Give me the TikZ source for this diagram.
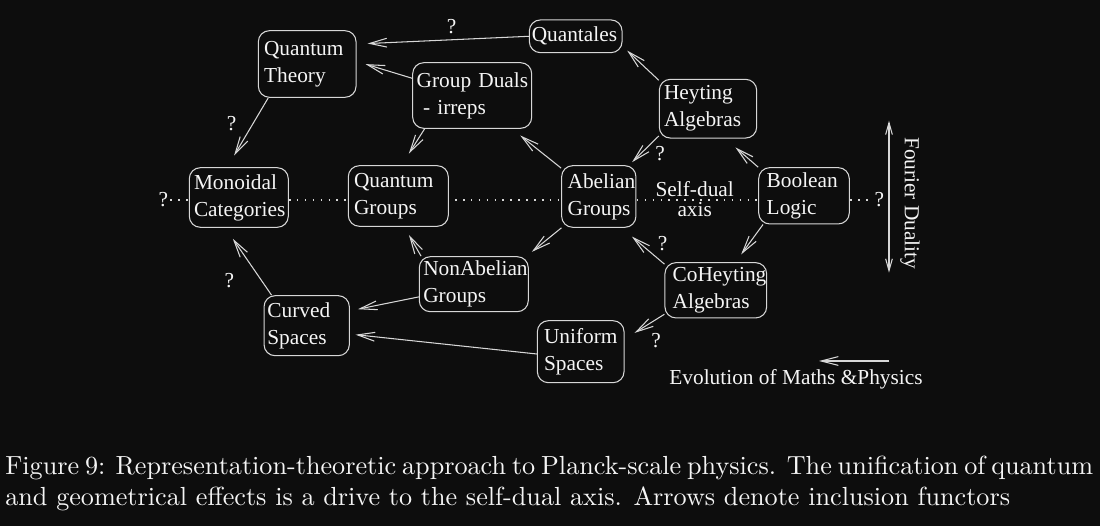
\documentclass[tikz,border=0pt]{standalone}
\usepackage{fontspec}
\newfontfamily\tnr{Liberation Serif}
\newfontfamily\capfont{lmroman10-regular.otf}
\usetikzlibrary{arrows.meta,backgrounds}
\definecolor{bgc}{RGB}{13,13,13}
\definecolor{linec}{RGB}{215,215,215}
\definecolor{txtc}{RGB}{245,245,245}
\hyphenpenalty=10000
\exhyphenpenalty=10000
\begin{document}
\begin{tikzpicture}[x=0.02cm,y=-0.02cm,
  every node/.style={text=txtc},
  box/.style={draw=linec, fill=bgc, line width=0.6pt, rounded corners=0.22cm, align=left, inner ysep=0pt,
    font=\tnr\fontsize{12.15}{15.4}\selectfont},
  arr/.style={draw=linec, line width=0.6pt, -{Straight Barb[length=9.8pt,width=5pt]}},
  lbl/.style={font=\tnr\fontsize{12.15}{15.4}\selectfont, inner sep=0.04cm},
  axisline/.style={draw=linec, line width=0.6pt, dash pattern=on 0.9pt off 3.6pt}]
\useasboundingbox (0,0) rectangle (1100,526);
% boxes
\node[box, inner xsep=0.114cm, text width=1.726cm, minimum height=1.332cm] (qt) at (307.2,64) {Quantum\\Theory};
\node[box, inner xsep=0.048cm, text width=1.758cm, minimum height=0.654cm] (qa) at (575.7,36.3) {Quantales};
\node[box, inner xsep=0.08cm, text width=2.22cm, minimum height=1.312cm] (gd) at (472.2,95.5) {Group~Duals\\\hspace*{0.3em}- irreps};
\node[box, inner xsep=0.094cm, text width=1.76cm, minimum height=1.174cm] (ha) at (708,108.7) {Heyting\\Algebras};
\node[box, inner xsep=0.094cm, text width=1.792cm, minimum height=1.192cm] (mc) at (238.8,197.5) {Monoidal\\Categories};
\node[box, inner xsep=0.114cm, text width=1.772cm, minimum height=1.212cm] (qg) at (398.3,196) {Quantum\\Groups};
\node[box, inner xsep=0.12cm, text width=1.246cm, minimum height=1.232cm] (ag) at (598.8,196.5) {Abelian\\Groups};
\node[box, inner xsep=0.16cm, text width=1.492cm, minimum height=1.126cm] (bl) at (804,195.8) {Boolean\\Logic};
\node[box, inner xsep=0.08cm, text width=2.02cm, minimum height=1.1cm] (na) at (473.8,284.2) {NonAbelian\\Groups};
\node[box, inner xsep=0.066cm, text width=1.574cm, minimum height=1.2cm] (cs) at (306.7,325.7) {Curved\\Spaces};
\node[box, inner xsep=0.154cm, text width=1.726cm, minimum height=1.106cm] (ch) at (715.8,290.3) {CoHeyting\\Algebras};
\node[box, inner xsep=0.134cm, text width=1.466cm, minimum height=1.24cm] (us) at (580.7,351.7) {Uniform\\Spaces};
% question marks and labels
\node[lbl] (q1) at (451.7,26.7) {?};
\node[lbl] (q2) at (231.7,123.3) {?};
\node[lbl] (q3) at (660,154) {?};
\node[lbl] (q4) at (662.7,243.3) {?};
\node[lbl] (q5) at (656,341) {?};
\node[lbl] (q6) at (229.3,280.7) {?};
\node[lbl] (lq) at (163.3,200) {?};
\node[lbl] (rq) at (879.3,200) {?};
\node[lbl, align=center, font=\tnr\fontsize{12.15}{11.8}\selectfont] (sd) at (694.7,199) {Self-dual\\axis};
% connectors
\draw[arr, shorten >=0.22cm] (qa.west) -- (qt.22);
\draw[arr, shorten >=0.188cm] (gd.164) -- (qt.3);
\draw[arr, shorten >=0.272cm] (qt.221) -- (mc.111);
\draw[arr, shorten >=0.274cm] (gd.215) -- (qg.84);
\draw[arr, shorten >=0.214cm] (ag.143) -- (gd.-40);
\draw[arr, shorten >=0.126cm] (ha.150) -- (qa.-12);
\draw[arr, shorten >=0.086cm] (ha.209) -- (ag.46);
\draw[arr, shorten >=0.27cm] (bl.148) -- (ha.-60);
\draw[arr, shorten >=0.192cm] (bl.215) -- (ch.55);
\draw[arr, shorten >=0.272cm] (ch.153) -- (ag.-54);
\draw[arr, shorten >=0.138cm] (ag.220) -- (na.28);
\draw[arr, shorten >=0.188cm] (na.152) -- (qg.-79);
\draw[arr, shorten >=0.164cm] (na.193) -- (cs.19);
\draw[arr, shorten >=0.266cm] (cs.139) -- (mc.246);
\draw[arr, shorten >=0.114cm] (us.183) -- (cs.-11);
\draw[arr, shorten >=0.236cm] (ch.205) -- (us.16);
% Fourier duality
\coordinate (f1) at (889,120.7);
\coordinate (f2) at (889,272.7);
\draw[draw=linec, line width=0.6pt, {Straight Barb[length=6.8pt,width=3.8pt]}-{Straight Barb[length=6.8pt,width=3.8pt]}] (f1) -- (f2);
\node[lbl, rotate=-90] (fd) at (910,203.3) {Fourier Duality};
% evolution
\coordinate (e1) at (889.3,361);
\coordinate (e2) at (819,361);
\draw[arr] (e1) -- (e2);
\node[lbl, anchor=base, inner sep=0pt] (ev) at (796,385) {Evolution of Maths \&Physics};
% caption
\node[anchor=north west, align=left, inner sep=0pt, font=\capfont\fontsize{14.9}{17.5}\selectfont] (cap) at (5,456) {\makebox[21.76cm][s]{Figure 9: Representation-theoretic approach to Planck-scale physics. The unification of quantum}\\and geometrical effects is a drive to the self-dual axis. Arrows denote inclusion functors};
% background
\begin{scope}[on background layer]
\fill[bgc] (0,0) rectangle (1100,526);
\draw[axisline] (lq.east) -- (rq.west);
\end{scope}
\end{tikzpicture}
\end{document}
